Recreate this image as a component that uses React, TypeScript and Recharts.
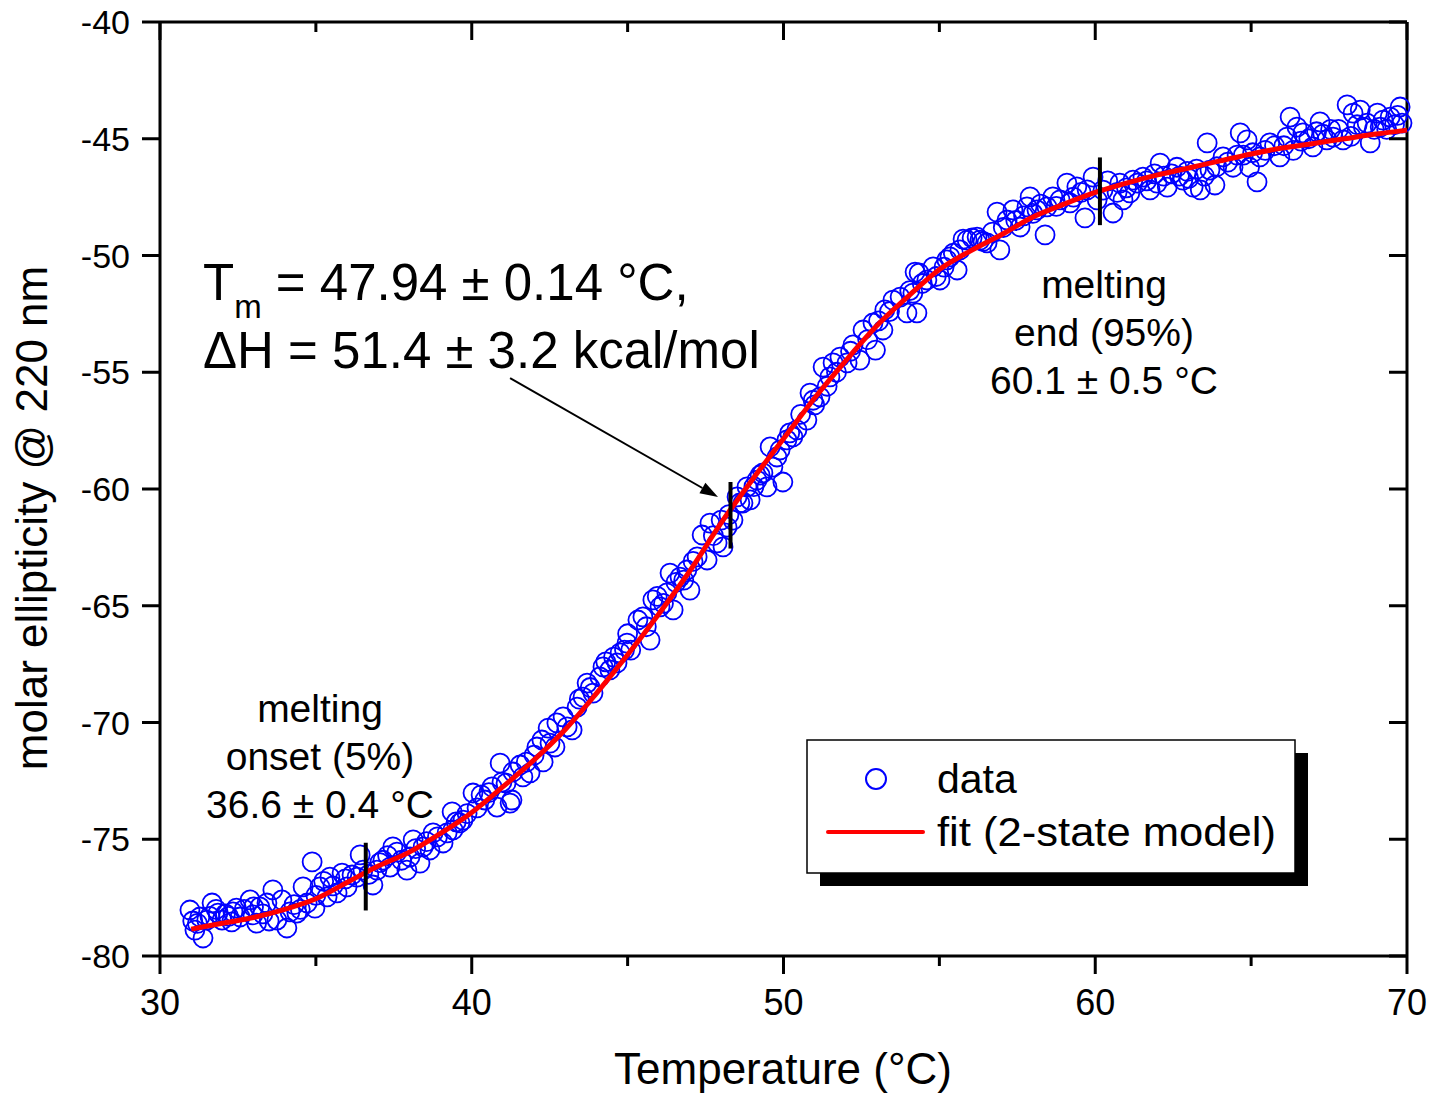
import React from 'react';
import { ComposedChart, Scatter, XAxis, YAxis, ReferenceLine } from 'recharts';

// ---------- data ----------
const xTicks = [30, 35, 40, 45, 50, 55, 60, 65, 70];
const yTicks = [-80, -75, -70, -65, -60, -55, -50, -45, -40];

// measured CD points: [temperature °C, molar ellipticity]
const dataPoints: [number, number][] = [
  [30.96, -78.03], [31.05, -78.5], [31.12, -78.89], [31.2, -78.6], [31.28, -78.33], [31.38, -79.23],
  [31.5, -78.46], [31.6, -78.3], [31.67, -77.73], [31.8, -78.0], [31.86, -78.16], [31.99, -78.46],
  [32.1, -78.2], [32.2, -78.3], [32.3, -78.54], [32.34, -78.11], [32.45, -77.95], [32.57, -78.33],
  [32.7, -78.0], [32.89, -77.6], [32.98, -78.24], [33.0, -77.9], [33.1, -78.59], [33.2, -77.9],
  [33.3, -78.2], [33.43, -77.73], [33.5, -78.5], [33.62, -77.17], [33.75, -78.46], [33.91, -77.6],
  [34.07, -78.8], [34.17, -78.11], [34.3, -77.8], [34.39, -78.16], [34.5, -78.0], [34.59, -77.04],
  [34.72, -77.73], [34.88, -75.97], [34.97, -77.95], [35.0, -77.4], [35.13, -77.04], [35.25, -76.8],
  [35.36, -77.47], [35.45, -76.62], [35.55, -77.0], [35.68, -77.3], [35.84, -76.45], [35.95, -76.7],
  [36.0, -77.04], [36.16, -76.53], [36.32, -76.62], [36.42, -75.67], [36.51, -76.32], [36.7, -76.5],
  [36.83, -76.96], [36.96, -76.32], [37.05, -76.0], [37.15, -75.9], [37.3, -75.7], [37.38, -76.19],
  [37.47, -75.33], [37.6, -75.55], [37.75, -75.9], [37.92, -76.32], [38.02, -75.76], [38.12, -75.03],
  [38.2, -75.4], [38.34, -76.02], [38.44, -75.33], [38.55, -75.1], [38.66, -75.46], [38.76, -74.73],
  [38.9, -74.9], [39.08, -75.16], [39.21, -74.73], [39.37, -73.83], [39.4, -74.6], [39.5, -74.26],
  [39.62, -74.3], [39.72, -74.18], [39.85, -73.9], [40.04, -73.02], [40.17, -73.66], [40.3, -73.1],
  [40.42, -73.32], [40.55, -73.0], [40.65, -72.76], [40.81, -73.62], [40.91, -71.74], [40.97, -72.55],
  [41.1, -72.6], [41.23, -73.45], [41.29, -73.32], [41.32, -72.12], [41.55, -71.82], [41.64, -72.33],
  [41.75, -71.7], [41.87, -72.16], [42.0, -71.4], [42.09, -71.05], [42.25, -70.75], [42.29, -71.69],
  [42.45, -70.24], [42.51, -70.88], [42.67, -71.05], [42.73, -70.02], [42.93, -69.76], [43.06, -70.19],
  [43.22, -70.32], [43.38, -69.34], [43.45, -69.0], [43.57, -68.91], [43.7, -68.31], [43.8, -68.5],
  [43.89, -68.74], [44.11, -68.05], [44.21, -67.62], [44.3, -67.4], [44.43, -67.75], [44.55, -67.2],
  [44.66, -67.45], [44.76, -67.02], [44.9, -66.9], [44.98, -66.6], [45.0, -66.2], [45.1, -66.9],
  [45.33, -65.61], [45.49, -65.48], [45.6, -65.9], [45.72, -66.47], [45.81, -64.75], [45.95, -64.6],
  [46.04, -65.05], [46.15, -64.9], [46.26, -64.45], [46.36, -63.6], [46.46, -65.18], [46.55, -64.0],
  [46.68, -63.77], [46.8, -63.9], [46.9, -63.47], [47.0, -64.33], [47.1, -63.1], [47.23, -62.91],
  [47.39, -61.97], [47.55, -63.04], [47.64, -61.46], [47.75, -62.0], [47.87, -62.31], [48.0, -61.33],
  [48.06, -62.48], [48.19, -61.63], [48.25, -61.1], [48.38, -61.33], [48.51, -60.34], [48.6, -60.6],
  [48.7, -60.6], [48.83, -59.91], [48.93, -60.47], [49.05, -59.9], [49.15, -59.62], [49.25, -59.4],
  [49.34, -59.31], [49.47, -59.91], [49.57, -58.2], [49.66, -59.06], [49.79, -58.63], [49.89, -58.33],
  [49.98, -59.7], [50.11, -57.9], [50.2, -57.6], [50.3, -57.77], [50.43, -57.47], [50.55, -56.8],
  [50.75, -57.05], [50.85, -55.89], [50.95, -56.2], [51.0, -56.4], [51.17, -56.06], [51.27, -54.78],
  [51.4, -55.6], [51.49, -55.2], [51.59, -54.6], [51.7, -55.0], [51.81, -54.35], [52.04, -54.6],
  [52.15, -54.1], [52.23, -53.83], [52.45, -54.48], [52.55, -53.19], [52.7, -53.6], [52.87, -52.89],
  [52.95, -54.05], [53.05, -52.8], [53.19, -53.19], [53.25, -52.33], [53.4, -52.4], [53.51, -51.91],
  [53.74, -51.78], [53.96, -52.46], [54.05, -51.5], [54.15, -51.61], [54.22, -50.71], [54.28, -52.46],
  [54.35, -50.75], [54.45, -51.2], [54.6, -51.05], [54.8, -50.49], [54.9, -50.9], [55.02, -51.05],
  [55.15, -50.5], [55.24, -50.19], [55.34, -50.06], [55.45, -49.9], [55.57, -50.62], [55.66, -49.76],
  [55.76, -49.3], [55.89, -49.34], [56.05, -49.25], [56.21, -49.21], [56.3, -49.34], [56.4, -49.4],
  [56.53, -49.46], [56.7, -49.0], [56.85, -48.14], [56.94, -49.76], [57.05, -48.8], [57.17, -48.48],
  [57.36, -48.05], [57.45, -48.5], [57.59, -48.78], [57.7, -48.3], [57.81, -47.92], [57.91, -47.49],
  [58.0, -48.2], [58.13, -48.05], [58.25, -47.8], [58.39, -49.12], [58.45, -47.92], [58.64, -47.49],
  [58.75, -47.9], [58.87, -47.62], [59.09, -46.9], [59.19, -47.75], [59.3, -47.5], [59.41, -47.06],
  [59.55, -47.3], [59.67, -48.39], [59.74, -47.19], [59.93, -46.64], [60.06, -47.62], [60.25, -47.2],
  [60.4, -46.8], [60.57, -48.18], [60.7, -47.3], [60.79, -46.9], [60.89, -47.62], [61.0, -47.1],
  [61.11, -47.32], [61.21, -46.77], [61.35, -46.9], [61.53, -46.64], [61.65, -46.8], [61.76, -47.19],
  [61.9, -46.5], [61.98, -46.9], [62.08, -46.04], [62.2, -46.6], [62.31, -47.07], [62.45, -46.5],
  [62.62, -46.22], [62.7, -46.6], [62.81, -46.77], [62.95, -46.4], [63.0, -46.7], [63.14, -47.07],
  [63.25, -46.3], [63.37, -47.19], [63.5, -46.6], [63.59, -45.18], [63.68, -46.34], [63.84, -46.98],
  [63.9, -46.2], [64.1, -45.78], [64.25, -46.0], [64.42, -46.22], [64.55, -45.7], [64.65, -44.75],
  [64.75, -45.7], [64.87, -45.05], [64.95, -46.22], [65.05, -45.6], [65.19, -46.85], [65.28, -45.78],
  [65.45, -45.5], [65.6, -45.18], [65.75, -45.3], [65.92, -45.78], [66.05, -45.3], [66.15, -44.93],
  [66.25, -44.07], [66.35, -45.5], [66.47, -44.5], [66.6, -45.1], [66.66, -44.75], [66.85, -45.0],
  [66.98, -45.35], [67.1, -44.7], [67.21, -44.28], [67.3, -44.8], [67.43, -45.05], [67.55, -44.6],
  [67.63, -44.93], [67.8, -44.6], [67.95, -45.05], [68.08, -43.55], [68.2, -44.9], [68.27, -43.9],
  [68.4, -44.4], [68.5, -43.77], [68.6, -44.5], [68.72, -44.33], [68.82, -45.18], [68.95, -44.6],
  [69.05, -43.9], [69.14, -44.5], [69.23, -44.2], [69.35, -44.6], [69.46, -44.07], [69.6, -44.4],
  [69.7, -44.0], [69.78, -43.64], [69.84, -44.33],
];

// 2-state fit curve
const fitTemps = [31, 32, 33, 34, 35, 36, 37, 38, 39, 40, 41, 42, 43, 44, 45, 46, 47, 48, 49, 50,
  51, 52, 53, 54, 55, 56, 57, 58, 59, 60, 61, 62, 63, 64, 65, 66, 67, 68, 69, 70];
const fitValues = [-78.85, -78.6, -78.35, -78.0, -77.55, -76.85, -76.15, -75.55, -74.75, -73.85,
  -72.75, -71.6, -70.3, -68.75, -67.1, -65.35, -63.5, -61.45, -59.6, -57.85,
  -56.1, -54.5, -53.0, -51.75, -50.6, -49.8, -49.1, -48.35, -47.8, -47.3,
  -46.9, -46.55, -46.25, -45.95, -45.65, -45.4, -45.2, -45.0, -44.8, -44.63];

// transition markers (onset 5%, Tm, end 95%)
const markerTemps = [36.6, 48.3, 60.15];
const markerLow = [-78.05, -62.55, -48.7];
const markerHigh = [-75.15, -59.7, -45.8];

// arrow from the Tm annotation to the midpoint marker
const arrowFrom = { x: 41.23, y: -55.25 };
const arrowTo = { x: 47.9, y: -60.34 };

const scatterData = dataPoints.map(([x, y]) => ({ x, y }));
const fitData = fitTemps.map((x, i) => ({ x, y: fitValues[i] }));
const markerData = markerTemps.map((t, i) => [
  { x: t, y: markerLow[i] },
  { x: t, y: markerHigh[i] },
]);

// ---------- layout ----------
const W = 1437;
const H = 1093;
const FONT = '"Liberation Sans", Arial, Helvetica, sans-serif';

const BottomTick = (p: any) => {
  const v = p.payload.value;
  const major = v % 10 === 0;
  return (
    <g>
      <line x1={p.x} y1={p.y} x2={p.x} y2={p.y + (major ? 18 : 10)} stroke="#000" strokeWidth={3} />
      {major && (
        <text x={p.x} y={p.y + 59} textAnchor="middle" fontSize={36} fontFamily={FONT} fill="#000">
          {v}
        </text>
      )}
    </g>
  );
};

const TopTick = (p: any) => {
  const v = p.payload.value;
  const major = v % 10 === 0;
  return <line x1={p.x} y1={p.y} x2={p.x} y2={p.y + (major ? 18 : 10)} stroke="#000" strokeWidth={3} />;
};

const LeftTick = (p: any) => (
  <g>
    <line x1={p.x - 18} y1={p.y} x2={p.x} y2={p.y} stroke="#000" strokeWidth={3} />
    <text x={p.x - 30} y={p.y + 12} textAnchor="end" fontSize={34} fontFamily={FONT} fill="#000">
      {p.payload.value}
    </text>
  </g>
);

const RightTick = (p: any) => (
  <line x1={p.x - 18} y1={p.y} x2={p.x} y2={p.y} stroke="#000" strokeWidth={3} />
);

const Circle = (p: any) => (
  <circle cx={p.cx} cy={p.cy} r={9.5} fill="none" stroke="#0000ff" strokeWidth={1.8} />
);

const NoDot = () => <g />;

const Arrow = (p: any) => {
  const { x1, y1, x2, y2 } = p;
  const ang = Math.atan2(y2 - y1, x2 - x1);
  const L = 18;
  const hw = 6;
  const bx = x2 - L * Math.cos(ang);
  const by = y2 - L * Math.sin(ang);
  const px = -Math.sin(ang) * hw;
  const py = Math.cos(ang) * hw;
  return (
    <g>
      <line x1={x1} y1={y1} x2={bx} y2={by} stroke="#000" strokeWidth={2} />
      <polygon points={`${x2},${y2} ${bx + px},${by + py} ${bx - px},${by - py}`} fill="#000" />
    </g>
  );
};

const axisLineStyle = { stroke: '#000', strokeWidth: 3 };

export default function App() {
  return (
    <div style={{ position: 'absolute', left: 0, top: 0, width: W, height: H, background: '#fff' }}>
      <ComposedChart
        width={W}
        height={H}
        margin={{ top: 22, right: W - 1407, bottom: H - 956 - 30, left: 160 - 60 }}
      >
        <XAxis
          xAxisId="b"
          dataKey="x"
          type="number"
          domain={[30, 70]}
          ticks={xTicks}
          interval={0}
          height={30}
          tickSize={0}
          tickMargin={0}
          tickLine={false}
          axisLine={axisLineStyle}
          tick={BottomTick}
        />
        <XAxis
          xAxisId="t"
          dataKey="x"
          type="number"
          orientation="top"
          mirror
          domain={[30, 70]}
          ticks={xTicks}
          interval={0}
          height={1}
          tickSize={0}
          tickMargin={0}
          tickLine={false}
          axisLine={axisLineStyle}
          tick={TopTick}
        />
        <YAxis
          yAxisId="l"
          dataKey="y"
          type="number"
          domain={[-80, -40]}
          ticks={yTicks}
          interval={0}
          width={60}
          tickSize={0}
          tickMargin={0}
          tickLine={false}
          axisLine={axisLineStyle}
          tick={LeftTick}
        />
        <YAxis
          yAxisId="r"
          dataKey="y"
          type="number"
          orientation="right"
          mirror
          domain={[-80, -40]}
          ticks={yTicks}
          interval={0}
          width={1}
          tickSize={0}
          tickMargin={0}
          tickLine={false}
          axisLine={axisLineStyle}
          tick={RightTick}
        />
        <Scatter
          name="data"
          xAxisId="b"
          yAxisId="l"
          data={scatterData}
          dataKey="y"
          shape={Circle}
          isAnimationActive={false}
        />
        <Scatter
          name="fit"
          xAxisId="t"
          yAxisId="r"
          data={fitData}
          dataKey="y"
          shape={NoDot}
          line={{ stroke: '#ff0000', strokeWidth: 5 }}
          lineJointType="monotone"
          isAnimationActive={false}
        />
        {markerData.map((seg, i) => (
          <Scatter
            key={'m' + i}
            name={'marker' + i}
            xAxisId="b"
            yAxisId="l"
            data={seg}
            dataKey="y"
            shape={NoDot}
            line={{ stroke: '#000', strokeWidth: 4 }}
            isAnimationActive={false}
          />
        ))}
        <ReferenceLine
          xAxisId="b"
          yAxisId="l"
          segment={[arrowFrom, arrowTo]}
          stroke="#000"
          strokeWidth={2}
          shape={Arrow}
        />
      </ComposedChart>

      <svg
        width={W}
        height={H}
        style={{ position: 'absolute', left: 0, top: 0, pointerEvents: 'none' }}
        fontFamily={FONT}
      >
        {/* axis titles */}
        <text x={783} y={1084} textAnchor="middle" fontSize={44} fill="#000">
          Temperature (°C)
        </text>
        <text transform="translate(47,518) rotate(-90)" textAnchor="middle" fontSize={44} fill="#000">
          molar ellipticity @ 220 nm
        </text>

        {/* Tm annotation */}
        <text x={203} y={300} fontSize={51} fill="#000">
          T<tspan fontSize={33} dy={18}>m</tspan>
          <tspan fontSize={51} dy={-18}> = 47.94 ± 0.14 °C,</tspan>
        </text>
        <text x={203} y={368} fontSize={51} fill="#000">
          ΔH = 51.4 ± 3.2 kcal/mol
        </text>

        {/* melting end */}
        <g fontSize={39} fill="#000" textAnchor="middle">
          <text x={1104} y={298}>melting</text>
          <text x={1104} y={346}>end (95%)</text>
          <text x={1104} y={394}>60.1 ± 0.5 °C</text>
        </g>
        {/* melting onset */}
        <g fontSize={39} fill="#000" textAnchor="middle">
          <text x={320} y={722}>melting</text>
          <text x={320} y={770}>onset (5%)</text>
          <text x={320} y={818}>36.6 ± 0.4 °C</text>
        </g>

        {/* legend */}
        <rect x={820} y={753} width={488} height={133} fill="#000" />
        <rect x={807} y={740} width={488} height={133} fill="#fff" stroke="#000" strokeWidth={1.5} />
        <circle cx={876} cy={779} r={10} fill="none" stroke="#0000ff" strokeWidth={2} />
        <text x={937} y={793} fontSize={41} fill="#000">data</text>
        <line x1={828} y1={832} x2={923} y2={832} stroke="#ff0000" strokeWidth={4} strokeLinecap="round" />
        <text x={937} y={846} fontSize={41} textLength={339} lengthAdjust="spacingAndGlyphs" fill="#000">fit (2-state model)</text>
      </svg>
    </div>
  );
}
